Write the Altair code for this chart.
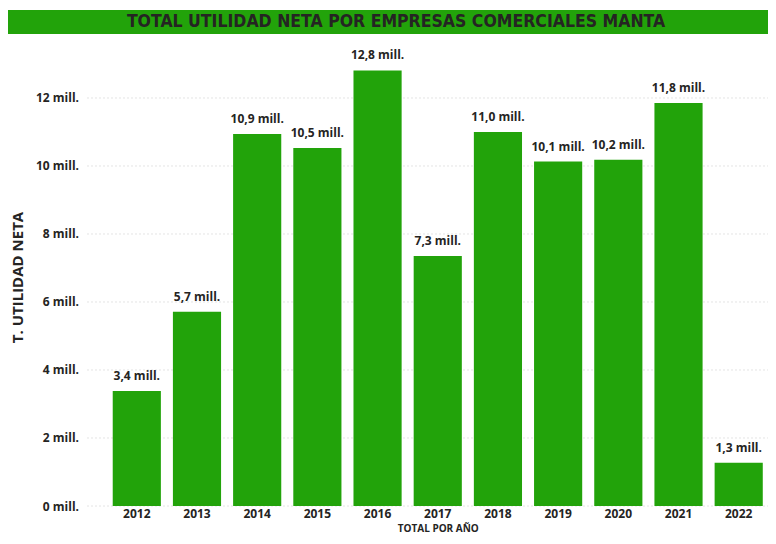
import altair as alt
import pandas as pd

years = ["2012", "2013", "2014", "2015", "2016", "2017", "2018", "2019", "2020", "2021", "2022"]
values = [3.38, 5.71, 10.94, 10.53, 12.81, 7.35, 11.00, 10.13, 10.18, 11.85, 1.27]
grid_values = [0, 2, 4, 6, 8, 10, 12]
title_text = ["TOTAL UTILIDAD NETA POR EMPRESAS COMERCIALES MANTA"]

df = pd.DataFrame({"year": years, "value": values})
grid_df = pd.DataFrame({"g": grid_values})
title_df = pd.DataFrame({"t": title_text})

GREEN = "#22A30A"
DARK = "#252423"
FONT = "Open Sans"
W, H = 664.5, 458
TOP = 40

yscale = alt.Scale(domain=[0, 13.47], nice=False)

yaxis = alt.Axis(title="T. UTILIDAD NETA", values=grid_values, labelExpr="datum.value + ' mill.'",
                 grid=False, ticks=False, domain=False, labelFont=FONT, labelFontWeight="bold",
                 labelFontSize=12, labelColor=DARK, labelPadding=27,
                 titleFont=FONT, titleFontWeight="bold", titleFontSize=15, titleColor=DARK,
                 titlePadding=10)
xaxis = alt.Axis(title="TOTAL POR AÑO", labelAngle=0, labelFont=FONT, labelFontWeight="bold",
                 labelFontSize=12, labelColor=DARK, labelPadding=2, ticks=False, domain=False,
                 grid=False,
                 titleFont=FONT, titleFontWeight="bold", titleFontSize=10, titleColor=DARK,
                 titleY=25.5, titleBaseline="alphabetic")

grid = alt.Chart(grid_df).mark_rule(color="#c8c8c8", strokeDash=[1, 3], strokeWidth=1).encode(
    y=alt.Y("g:Q", scale=yscale, axis=yaxis),
    x=alt.value(-18),
    x2=alt.value(W - 2),
)

bars = alt.Chart(df).mark_bar(color=GREEN).encode(
    x=alt.X("year:N", sort=years,
            scale=alt.Scale(paddingInner=0.2, paddingOuter=0.12),
            axis=xaxis),
    y=alt.Y("value:Q", scale=yscale, axis=yaxis),
)

labels = alt.Chart(df).transform_calculate(
    lbl="replace(format(datum.value, '.1f'), '.', ',') + ' mill.'"
).mark_text(dy=-15, font=FONT, fontWeight="bold", fontSize=12, color=DARK).encode(
    x=alt.X("year:N", sort=years, axis=xaxis),
    y=alt.Y("value:Q", scale=yscale, axis=yaxis),
    text="lbl:N",
)

title_bg = alt.Chart(title_df).mark_rect(color=GREEN).encode(
    x=alt.value(-97.5), x2=alt.value(W - 2), y=alt.value(2 - TOP), y2=alt.value(26 - TOP)
)
title_txt = alt.Chart(title_df).mark_text(
    font="DejaVu Sans Condensed", fontWeight="bold", fontSize=17.5, color=DARK, align="center", baseline="middle"
).encode(x=alt.value(290.5), y=alt.value(14 - TOP), text="t:N")

chart = alt.layer(title_bg, title_txt, grid, bars, labels).properties(
    width=W, height=H,
    background="white",
    autosize=alt.AutoSizeParams(type="none"),
    padding={"left": 97.5, "top": TOP, "right": -2, "bottom": 30},
).configure_view(strokeWidth=0, stroke="transparent")

chart.save("out.html", embed_options={"renderer": "svg", "actions": False})
